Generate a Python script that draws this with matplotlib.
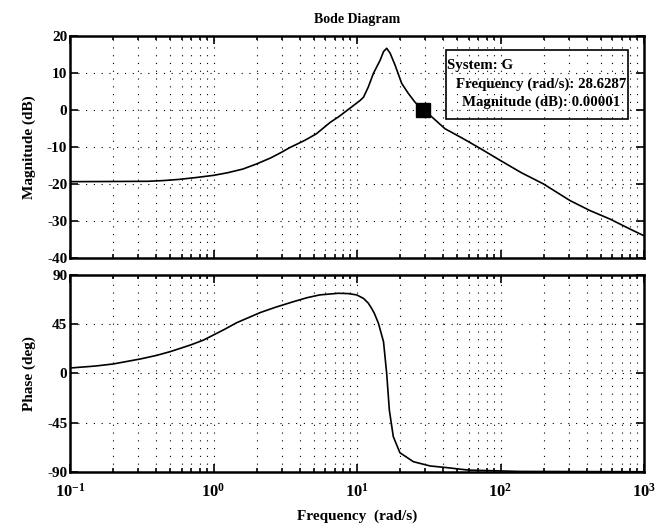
"""Bode diagram of system G with a data tip at the 0 dB crossover."""

import matplotlib

matplotlib.use("Agg")
import matplotlib.pyplot as plt
from matplotlib.ticker import LogLocator, NullFormatter, FixedLocator, FixedFormatter

# magnitude curve
mag_freq = [0.1, 0.2, 0.35, 0.45, 0.57, 0.75, 1.0, 1.25, 1.6, 2.0, 2.5, 3.0, 3.4, 4.3, 5.2,
            6.5, 7.5, 8.5, 10.5, 11.1, 12.0, 13.0, 14.5, 15.3, 16.1, 17.0, 18.4, 20.5, 22.8,
            25.3, 28.63, 32.3, 41.0, 55.0, 72.0, 99.0, 140.0, 199.0, 305.0, 420.0, 580.0,
            800.0, 1000.0]
mag_db = [-19.4, -19.35, -19.3, -19.1, -18.8, -18.3, -17.7, -17.0, -16.0, -14.6, -13.0, -11.4,
          -10.2, -8.3, -6.5, -3.4, -1.8, -0.2, 2.5, 3.4, 6.2, 9.8, 13.4, 15.7, 16.6, 15.3,
          12.1, 7.1, 4.4, 2.1, 0.0, -1.5, -5.1, -7.8, -10.4, -13.6, -17.0, -20.0, -24.5,
          -27.2, -29.5, -32.2, -34.0]

# phase curve
phase_freq = [0.1, 0.15, 0.2, 0.31, 0.4, 0.5, 0.69, 0.85, 1.0, 1.2, 1.45, 1.75, 2.11, 2.7,
              3.6, 4.5, 5.5, 7.4, 8.7, 9.95, 11.1, 12.0, 12.7, 13.2, 14.1, 15.3, 16.1, 16.8,
              17.9, 19.9, 24.7, 32.3, 42.0, 60.0, 135.0, 1000.0]
phase_deg = [5.0, 6.8, 8.7, 13.3, 16.5, 20.0, 26.0, 30.5, 35.2, 40.5, 46.4, 51.0, 55.6, 60.5,
             65.6, 69.3, 71.8, 73.3, 73.0, 71.8, 68.6, 64.2, 59.0, 55.0, 45.9, 29.0, 0.0,
             -33.4, -57.7, -72.4, -80.6, -84.5, -86.0, -88.3, -89.5, -89.8]

# data tip
tip_freq = 28.6287
tip_mag = 0.00001

mag_ticks = [-40, -30, -20, -10, 0, 10, 20]
phase_ticks = [-90, -45, 0, 45, 90]
freq_ticks = [0.1, 1, 10, 100, 1000]
freq_labels = [r"$\mathbf{10^{-1}}$", r"$\mathbf{10^{0}}$", r"$\mathbf{10^{1}}$",
               r"$\mathbf{10^{2}}$", r"$\mathbf{10^{3}}$"]

plt.rcParams["font.family"] = "Liberation Serif"
plt.rcParams["font.weight"] = "bold"
plt.rcParams["axes.unicode_minus"] = False
plt.rcParams["mathtext.fontset"] = "custom"
plt.rcParams["mathtext.rm"] = "Liberation Serif:bold"
plt.rcParams["mathtext.bf"] = "Liberation Serif:bold"
plt.rcParams["mathtext.it"] = "Liberation Serif:bold"


def style_axis(ax, yticks):
    ax.set_xscale("log")
    ax.set_xlim(0.1, 1000)
    ax.set_ylim(yticks[0], yticks[-1])
    ax.yaxis.set_major_locator(FixedLocator(yticks))
    ax.xaxis.set_major_locator(FixedLocator(freq_ticks))
    ax.xaxis.set_minor_locator(LogLocator(base=10, subs=range(2, 10)))
    ax.xaxis.set_minor_formatter(NullFormatter())
    ax.tick_params(which="both", direction="in", top=True, right=True, labelsize=11, width=1.2)
    ax.tick_params(which="major", length=6, pad=2)
    ax.tick_params(which="minor", length=3)
    ax.grid(True, which="both", axis="x", color="black", linestyle=(0, (1, 6)), linewidth=0.8)
    ax.grid(True, which="major", axis="y", color="black", linestyle=(0, (1, 6)), linewidth=0.8)
    for spine in ax.spines.values():
        spine.set_linewidth(1.8)


def main():
    fig = plt.figure(figsize=(6.67, 5.25), dpi=100)
    ax_mag = fig.add_axes([0.105, 0.5086, 0.8605, 0.4234])
    ax_ph = fig.add_axes([0.105, 0.1010, 0.8605, 0.3752])

    ax_mag.plot(mag_freq, mag_db, color="black", linewidth=1.2)
    ax_mag.plot([tip_freq], [tip_mag], marker="s", color="black", markersize=10)
    style_axis(ax_mag, mag_ticks)
    ax_mag.xaxis.set_major_formatter(NullFormatter())
    ax_mag.set_ylabel("Magnitude (dB)", fontsize=11, fontweight="bold", labelpad=8)
    ax_mag.set_title("Bode Diagram", fontsize=10, fontweight="bold", pad=9)

    # data tip box
    box_x0, box_x1 = 0.6545, 0.9727
    ax_mag.add_patch(plt.Rectangle((box_x0, 0.624), box_x1 - box_x0, 0.312,
                                   transform=ax_mag.transAxes, facecolor="none",
                                   edgecolor="black", linewidth=1.2, zorder=5))
    ax_mag.text(box_x0 + 0.002, 0.868, "System: G", transform=ax_mag.transAxes,
                fontsize=10.7, fontweight="bold", va="center", ha="left", zorder=6)
    ax_mag.text(0.8206, 0.783, f"Frequency (rad/s): {tip_freq}", transform=ax_mag.transAxes,
                fontsize=10.7, fontweight="bold", va="center", ha="center", zorder=6)
    ax_mag.text(0.8206, 0.700, f"Magnitude (dB): {tip_mag:.5f}", transform=ax_mag.transAxes,
                fontsize=10.7, fontweight="bold", va="center", ha="center", zorder=6)

    ax_ph.plot(phase_freq, phase_deg, color="black", linewidth=1.2)
    style_axis(ax_ph, phase_ticks)
    ax_ph.xaxis.set_major_formatter(FixedFormatter(freq_labels))
    ax_ph.tick_params(axis="x", which="major", pad=8, labelsize=12)
    ax_ph.set_ylabel("Phase (deg)", fontsize=11, fontweight="bold", labelpad=8)
    ax_ph.set_xlabel("Frequency  (rad/s)", fontsize=11, fontweight="bold", labelpad=6)

    fig.savefig("out.png", dpi=100)
    plt.close(fig)


if __name__ == "__main__":
    main()
